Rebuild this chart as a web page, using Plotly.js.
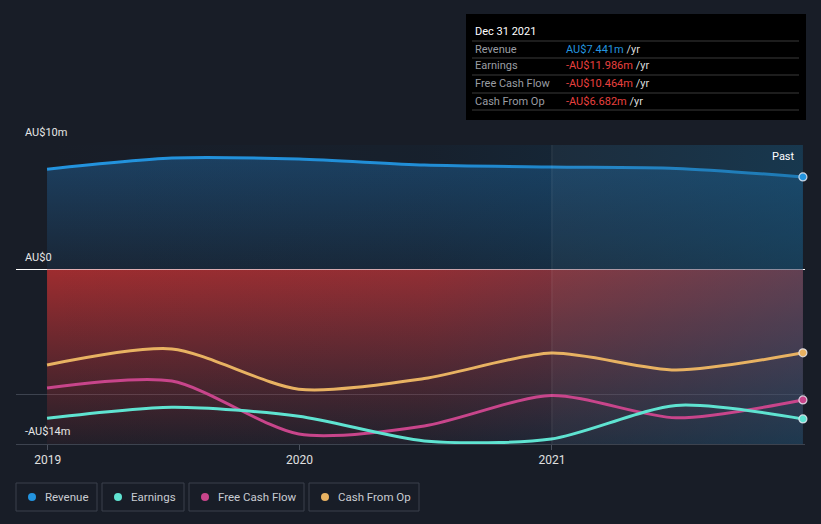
<!DOCTYPE html>
<html><head><meta charset="utf-8">
<script src="https://cdn.plot.ly/plotly-3.0.1.min.js"></script>
<style>html,body{margin:0;padding:0;background:#181d27;}#chart{width:821px;height:524px;}</style>
</head><body><div id="chart"></div>
<script>
// ---- data (AU$ millions) ----
const dates = ['2018-12-31','2019-06-30','2019-12-31','2020-06-30','2020-12-31','2021-06-30','2021-12-31'];
const revenue  = [8.06, 8.95, 8.87, 8.39, 8.23, 8.12, 7.441];
const earnings = [-11.94, -11.05, -11.77, -13.75, -13.6, -10.9, -11.986];
const freeCashFlow = [-9.5, -8.95, -13.2, -12.55, -10.1, -11.9, -10.464];
const cashFromOp   = [-7.66, -6.37, -9.6, -8.75, -6.7, -8.06, -6.682];
const seriesNames = ['Revenue','Earnings','Free Cash Flow','Cash From Op'];
const xTickVals = ['2019-01-01','2020-01-01','2021-01-01'];
const xTickText = ['2019','2020','2021'];
const yLabelVals = [10, 0, -14];
const yLabelText = ['AU$10m','AU$0','-AU$14m'];
const tipDate = 'Dec 31 2021';
const tipValues = ['AU$7.441m','-AU$11.986m','-AU$10.464m','-AU$6.682m'];
const pastStart = '2021-01-01';

// ---- styling ----
const colors = ['#2394df','#5fe3d1','#c8458b','#e8b262'];
const bg = '#181d27';
const yMin = -14, yMax = 10;
const xRange = ['2018-11-16','2022-01-03'];
const L = 16, R = 16, T = 145, B = 80, W = 821, H = 524;
const pw = W - L - R, ph = H - T - B;
const px = x => (x - L) / pw;
const py = y => (H - B - y) / ph;
const SM = 0.75;

const last = dates.length - 1;
const zeros = dates.map(() => 0);
const mins = dates.map(() => yMin);
const traces = [];

// red negative region
traces.push({
  x: dates.concat(dates.slice().reverse()),
  y: zeros.concat(mins),
  fill: 'toself', mode: 'none', hoverinfo: 'skip', showlegend: false,
  fillgradient: {type: 'vertical', start: yMin, stop: 0,
    colorscale: [[0, 'rgba(200,55,60,0.06)'], [1, 'rgba(205,50,50,0.74)']]}
});
// revenue fill + line
traces.push({
  x: dates, y: revenue, mode: 'lines', fill: 'tozeroy',
  line: {color: colors[0], width: 3, shape: 'spline', smoothing: SM},
  fillgradient: {type: 'vertical', start: 0, stop: 9,
    colorscale: [[0, 'rgba(35,120,190,0.10)'], [1, 'rgba(35,120,190,0.38)']]},
  hoverinfo: 'skip', showlegend: false
});
// past-period tint
const pastX = [pastStart, dates[last], dates[last], pastStart];
traces.push({
  x: pastX, y: [yMin, yMin, yMax, yMax], fill: 'toself', mode: 'none',
  fillcolor: 'rgba(255,255,255,0.045)', hoverinfo: 'skip', showlegend: false
});
// horizontal teal tint
const allX = [dates[0], dates[last], dates[last], dates[0]];
traces.push({
  x: allX, y: [yMin, yMin, yMax, yMax], fill: 'toself', mode: 'none',
  fillgradient: {type: 'horizontal',
    colorscale: [[0, 'rgba(10,70,110,0)'], [0.5, 'rgba(10,70,110,0.08)'], [1, 'rgba(10,80,120,0.42)']]},
  hoverinfo: 'skip', showlegend: false
});
// other lines
[[cashFromOp, 3], [freeCashFlow, 2], [earnings, 1]].forEach(([vals, ci]) => {
  traces.push({x: dates, y: vals, mode: 'lines',
    line: {color: colors[ci], width: 3, shape: 'spline', smoothing: SM},
    hoverinfo: 'skip', showlegend: false});
});
// end markers
[revenue, earnings, freeCashFlow, cashFromOp].forEach((vals, i) => {
  traces.push({x: [dates[last]], y: [vals[last]], mode: 'markers',
    marker: {size: 8, color: colors[i], line: {color: 'rgba(230,230,240,0.85)', width: 1.2}},
    hoverinfo: 'skip', showlegend: false, cliponaxis: false});
});

const shapes = [];
const annotations = [];
// vertical line at past start
shapes.push({type: 'line', xref: 'x', yref: 'paper', x0: pastStart, x1: pastStart, y0: 0, y1: 1,
  line: {color: 'rgba(255,255,255,0.10)', width: 1}, layer: 'above'});

// y labels
yLabelVals.forEach((v, i) => {
  annotations.push({xref: 'paper', yref: 'y', x: px(23), y: v, xanchor: 'left', yanchor: 'bottom',
    yshift: 4, text: yLabelText[i], showarrow: false, font: {size: 11, color: '#e6e6e6'}});
});
annotations.push({xref: 'paper', yref: 'paper', x: px(797), y: py(156), xanchor: 'right', yanchor: 'middle',
  text: 'Past', showarrow: false, font: {size: 11, color: '#ffffff'}});

// tooltip box
shapes.push({type: 'rect', xref: 'paper', yref: 'paper', x0: px(466), x1: px(806), y0: py(120), y1: py(14),
  fillcolor: '#000000', line: {width: 0}, layer: 'above'});
[41, 58, 75, 93, 110].forEach(yy => {
  shapes.push({type: 'line', xref: 'paper', yref: 'paper', x0: px(472), x1: px(799), y0: py(yy), y1: py(yy),
    line: {color: '#3a3a3a', width: 1}, layer: 'above'});
});
annotations.push({xref: 'paper', yref: 'paper', x: px(473), y: py(31), xanchor: 'left', yanchor: 'middle',
  text: tipDate, showarrow: false, font: {size: 11, color: '#ffffff'}});
const rowY = [49, 66, 84, 101];
seriesNames.forEach((n, i) => {
  annotations.push({xref: 'paper', yref: 'paper', x: px(473), y: py(rowY[i]), xanchor: 'left', yanchor: 'middle',
    text: n, showarrow: false, font: {size: 11, color: '#9a9da3'}});
  const vc = i === 0 ? colors[0] : '#e8413f';
  annotations.push({xref: 'paper', yref: 'paper', x: px(564), y: py(rowY[i]), xanchor: 'left', yanchor: 'middle',
    text: '<span style="color:' + vc + '">' + tipValues[i] + '</span> /yr', showarrow: false,
    font: {size: 11, color: '#dcdcdc'}});
});

// legend boxes
const boxes = [[16, 97], [102, 184], [189, 304], [309, 419]];
seriesNames.forEach((n, i) => {
  const [x0, x1] = boxes[i];
  shapes.push({type: 'rect', xref: 'paper', yref: 'paper', x0: px(x0), x1: px(x1), y0: py(511), y1: py(483),
    line: {color: '#3b414d', width: 1}, fillcolor: 'rgba(0,0,0,0)', layer: 'above'});
  shapes.push({type: 'circle', xref: 'paper', yref: 'paper', xsizemode: 'pixel', ysizemode: 'pixel',
    xanchor: px(x0 + 16), yanchor: py(497), x0: -4, x1: 4, y0: -4, y1: 4,
    fillcolor: colors[i], line: {width: 0}, layer: 'above'});
  annotations.push({xref: 'paper', yref: 'paper', x: px(x0 + 27), y: py(497), xanchor: 'left', yanchor: 'middle',
    text: n, showarrow: false, font: {size: 11.5, color: '#c9ccd2'}});
});

const layout = {
  width: W, height: H, paper_bgcolor: bg, plot_bgcolor: bg,
  margin: {l: L, r: R, t: T, b: B, pad: 0},
  font: {family: 'Roboto, "Open Sans", sans-serif', size: 11, color: '#e6e6e6'},
  xaxis: {type: 'date', range: xRange, tickvals: xTickVals, ticktext: xTickText,
    showgrid: false, zeroline: false, showline: true, linecolor: '#3d434f', linewidth: 1,
    ticks: 'outside', ticklen: 5, tickcolor: '#4a505c', tickfont: {size: 12, color: '#e0e0e0'}},
  yaxis: {range: [yMin, yMax], tickvals: [10, -10], showticklabels: false, ticks: '',
    showgrid: true, gridcolor: '#3d434f', gridwidth: 1,
    zeroline: true, zerolinecolor: '#ffffff', zerolinewidth: 1, showline: false, fixedrange: true},
  shapes: shapes, annotations: annotations, showlegend: false
};
Plotly.newPlot('chart', traces, layout, {displayModeBar: false, staticPlot: true});
</script></body></html>
